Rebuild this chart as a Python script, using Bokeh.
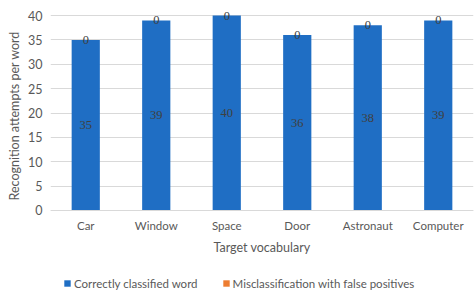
from bokeh.plotting import figure
from bokeh.models import ColumnDataSource, Legend, LegendItem, LabelSet, Range1d, FactorRange, Title
from bokeh.embed import file_html
from bokeh.resources import INLINE

categories = ["Car", "Window", "Space", "Door", "Astronaut", "Computer"]
correct = [35, 39, 40, 36, 38, 39]
misclassified = [0, 0, 0, 0, 0, 0]
series_names = ["Correctly classified word", "Misclassification with false positives"]
colors = ["#1f6ec4", "#ed7d31"]
y_ticks = [0, 5, 10, 15, 20, 25, 30, 35, 40]

src = ColumnDataSource(dict(
    cat=categories,
    correct=correct,
    mis=misclassified,
    lab_c=[str(v) for v in correct],
    lab_m=[str(v) for v in misclassified],
    y_c=[v / 2 for v in correct],
    y_m=[c + m / 2 for c, m in zip(correct, misclassified)],
))

FONT = "Lato"
GREY = "#595959"
# frame spans the full height below the top border; value 0 sits 83 px above the bottom
p = figure(width=474, height=293,
           x_range=FactorRange(*categories, range_padding=0),
           y_range=Range1d(-17.03, 41.44), output_backend="svg", toolbar_location=None,
           min_border_left=49, min_border_right=1, min_border_top=8, min_border_bottom=0)
p.outline_line_color = None

r = p.vbar_stack(["correct", "mis"], x="cat", width=0.4, color=colors, source=src, line_width=0)

for col, ycol in (("lab_c", "y_c"), ("lab_m", "y_m")):
    p.add_layout(LabelSet(x="cat", y=ycol, text=col, source=src, text_align="center",
                          text_baseline="middle", text_color="#404040",
                          text_font_size="12.5px", text_font=FONT))

p.yaxis.ticker = y_ticks
p.ygrid.ticker = y_ticks
p.yaxis.axis_line_color = None
p.yaxis.major_tick_line_color = None
p.yaxis.minor_tick_line_color = None
p.yaxis.major_tick_out = 0
p.yaxis.major_tick_in = 0
p.yaxis.major_label_standoff = 8
p.yaxis.major_label_text_color = GREY
p.yaxis.major_label_text_font_size = "12.5px"
p.yaxis.major_label_text_font = FONT

ytitle = Title(text="Recognition attempts per word", align="left", offset=93,
               text_font_size="12.5px", text_font_style="normal", text_color=GREY,
               text_font=FONT, standoff=8)
p.add_layout(ytitle, "left")

p.xaxis.fixed_location = 0
p.xaxis.axis_line_color = "#d9d9d9"
p.xaxis.major_tick_line_color = None
p.xaxis.minor_tick_line_color = None
p.xaxis.major_tick_out = 0
p.xaxis.major_tick_in = 0
p.xaxis.major_label_text_color = GREY
p.xaxis.major_label_text_font_size = "11.5px"
p.xaxis.major_label_text_font = FONT
p.xaxis.major_label_standoff = 9
p.xaxis.axis_label = "Target vocabulary"
p.xaxis.axis_label_text_font_style = "normal"
p.xaxis.axis_label_text_font_size = "12.5px"
p.xaxis.axis_label_text_color = GREY
p.xaxis.axis_label_text_font = FONT
p.xaxis.axis_label_standoff = 4

p.xgrid.grid_line_color = None
p.ygrid.grid_line_color = "#d9d9d9"

legend = Legend(items=[LegendItem(label=series_names[0], renderers=[r[0]]),
                       LegendItem(label=series_names[1], renderers=[r[1]])],
                orientation="horizontal", location=(13, 2),
                label_text_font_size="11.5px", label_text_color=GREY,
                label_text_font=FONT, glyph_width=8, glyph_height=8,
                label_height=16,
                border_line_color=None, background_fill_alpha=0,
                spacing=24, label_standoff=3, margin=0, padding=0)
p.add_layout(legend, "center")

open("out.html", "w").write(file_html(p, INLINE))
